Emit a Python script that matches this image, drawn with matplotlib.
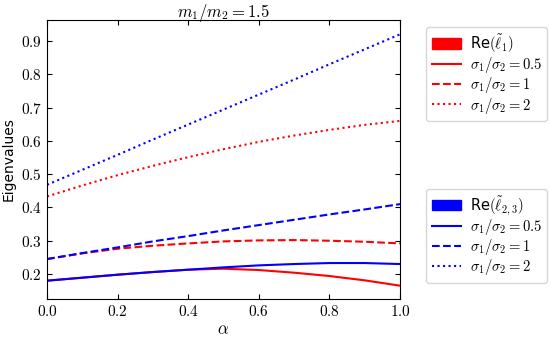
import numpy as np
import matplotlib
matplotlib.use("Agg")
import matplotlib.pyplot as plt
from matplotlib.patches import Patch
from matplotlib.lines import Line2D

plt.rcParams['mathtext.fontset'] = 'cm'

alpha = [0.0, 0.1, 0.2, 0.3, 0.4, 0.5, 0.6, 0.7, 0.8, 0.9, 1.0]

# Re(l1) (red)
l1_s05 = [0.180, 0.189, 0.198, 0.206, 0.213, 0.216, 0.212, 0.204, 0.194, 0.181, 0.165]
l1_s1 = [0.245, 0.262, 0.276, 0.285, 0.292, 0.298, 0.301, 0.302, 0.300, 0.297, 0.292]
l1_s2 = [0.433, 0.466, 0.497, 0.525, 0.551, 0.575, 0.597, 0.616, 0.633, 0.648, 0.660]

# Re(l23) (blue)
l23_s05 = [0.180, 0.189, 0.198, 0.206, 0.213, 0.220, 0.226, 0.230, 0.233, 0.233, 0.230]
l23_s1 = [0.245, 0.263, 0.280, 0.298, 0.314, 0.331, 0.347, 0.363, 0.379, 0.394, 0.410]
l23_s2 = [0.468, 0.513, 0.558, 0.604, 0.649, 0.694, 0.739, 0.784, 0.830, 0.875, 0.920]

ratios = ['0.5', '1', '2']
styles = ['-', '--', ':']

fig = plt.figure(figsize=(5.5, 3.39), dpi=100)
ax = fig.add_axes([0.0855, 0.118, 0.6418, 0.823])

for y, ls in zip([l1_s05, l1_s1, l1_s2], styles):
    ax.plot(alpha, y, color='red', ls=ls, lw=1.5)
for y, ls in zip([l23_s05, l23_s1, l23_s2], styles):
    ax.plot(alpha, y, color='blue', ls=ls, lw=1.5)

ax.set_xlim(0, 1)
ax.set_ylim(0.125, 0.963)
ax.set_xticks([0.0, 0.2, 0.4, 0.6, 0.8, 1.0])
ax.set_yticks([0.2, 0.3, 0.4, 0.5, 0.6, 0.7, 0.8, 0.9])
ax.set_xticklabels(['$%.1f$' % v for v in ax.get_xticks()], fontsize=11)
ax.set_yticklabels(['$%.1f$' % v for v in ax.get_yticks()], fontsize=11)
ax.tick_params(direction='in', top=True, right=True)
ax.set_xlabel(r'$\alpha$', fontsize=12, labelpad=1)
ax.set_ylabel('Eigenvalues', fontsize=10)
ax.set_title(r'$m_1/m_2 = 1.5$', fontsize=12, pad=2)

h1 = [Patch(color='red', label=r'Re$(\tilde{\ell}_1)$')]
h1 += [Line2D([], [], color='red', ls=ls, lw=1.5, label=r'$\sigma_1/\sigma_2 = %s$' % r)
       for ls, r in zip(styles, ratios)]
h2 = [Patch(color='blue', label=r'Re$(\tilde{\ell}_{2,3})$')]
h2 += [Line2D([], [], color='blue', ls=ls, lw=1.5, label=r'$\sigma_1/\sigma_2 = %s$' % r)
       for ls, r in zip(styles, ratios)]

leg_kw = dict(loc='upper left', fontsize=10.5, borderaxespad=0,
              labelspacing=0.02, borderpad=0.35, handletextpad=0.6)
leg1 = ax.legend(handles=h1, bbox_to_anchor=(1.075, 0.975), **leg_kw)
ax.add_artist(leg1)
ax.legend(handles=h2, bbox_to_anchor=(1.075, 0.395), **leg_kw)

fig.savefig('out.png', dpi=100)
